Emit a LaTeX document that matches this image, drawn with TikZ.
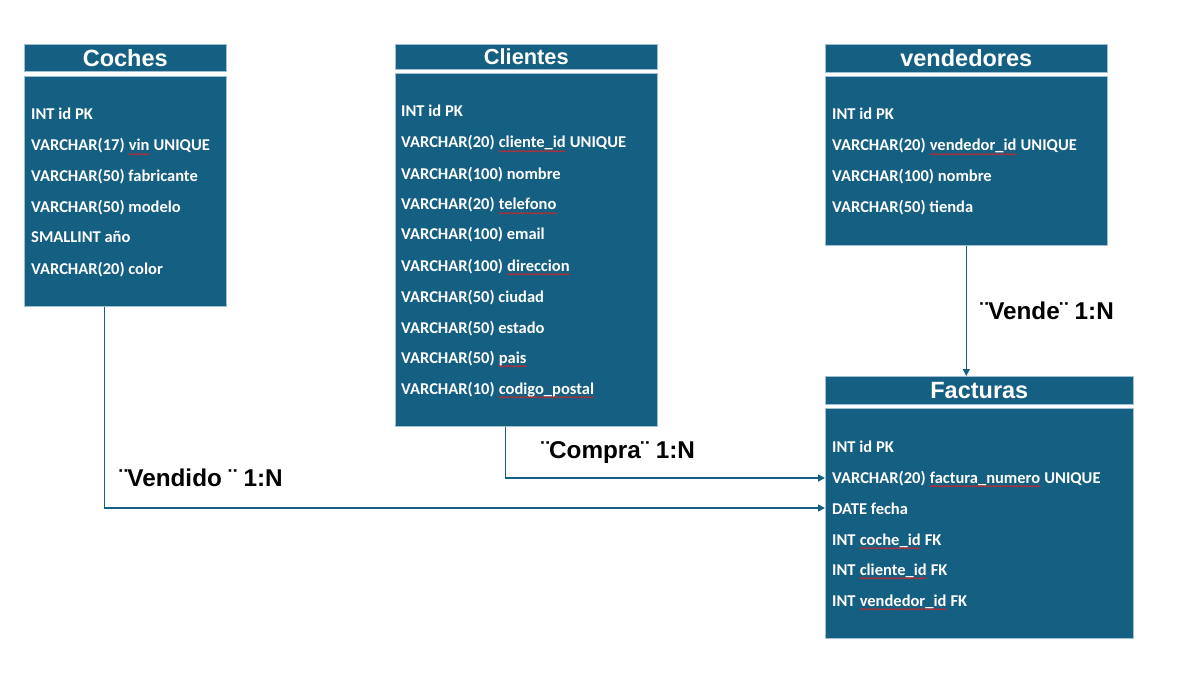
\documentclass[tikz,border=0pt]{standalone}
\usepackage{fontspec}
\setmainfont{Liberation Sans}
\newfontfamily\bodyfont{Carlito}
\usetikzlibrary{arrows.meta,decorations.pathmorphing}
\definecolor{tblue}{HTML}{156082}
\definecolor{tedge}{HTML}{9FBFD3}
\definecolor{sqred}{HTML}{E02020}
\tikzset{
  hdr/.style={draw=tedge, line width=0.6pt, fill=tblue, text=white, anchor=north west,
    inner sep=0pt, font=\bfseries\fontsize{23.5}{25}\selectfont},
  tbody/.style={draw=tedge, line width=0.6pt, fill=tblue, anchor=north west, inner sep=0pt},
  row/.style={anchor=base west, text=white, inner sep=0pt, font=\bodyfont\bfseries\fontsize{16.5}{18}\selectfont},
  lbl/.style={text=black, inner sep=0pt, font=\bfseries\fontsize{24.3}{26}\selectfont},
  conn/.style={draw=tblue, line width=1.6pt, -{Triangle[length=7pt,width=7pt]}},
  squig/.style={draw=sqred, line width=0.55pt, decorate, decoration={snake, amplitude=0.7pt, segment length=2.4pt}}
}
\newcommand\sqline[1]{\draw[squig] ([yshift=-3.2pt]#1.base west) -- ([yshift=-3.2pt]#1.base east);}
\begin{document}
\begin{tikzpicture}[x=1pt,y=-1pt]
\useasboundingbox (0,0) rectangle (1179,674);
% Coches
\node[hdr, minimum width=202pt, minimum height=27pt] (cochesH) at (24,44) {\raisebox{-1.5pt}{Coches}};
\node[tbody, minimum width=202pt, minimum height=230pt] (coches) at (24,76) {};
\node[row] (c1) at (31,120) {INT id PK};
\node[row] (c2) at (31,151) {VARCHAR(17)\ \null};
\node[row] (c2w) at (c2.base east) {vin};
\node[row] (c2b) at (c2w.base east) {\ UNIQUE};
\node[row] (c3) at (31,182) {VARCHAR(50) fabricante};
\node[row] (c4) at (31,213) {VARCHAR(50) modelo};
\node[row] (c5) at (31,243) {SMALLINT año};
\node[row] (c6) at (31,274) {VARCHAR(20) color};
% Clientes
\node[hdr, minimum width=262pt, minimum height=25pt, font=\bfseries\fontsize{21.8}{23}\selectfont] (clientesH) at (395,44) {\raisebox{-1pt}{Clientes}};
\node[tbody, minimum width=262pt, minimum height=353pt] (clientes) at (395,73) {};
\node[row] (k1) at (401,117) {INT id PK};
\node[row] (k2) at (401,148) {VARCHAR(20)\ \null};
\node[row] (k2w) at (k2.base east) {cliente\_id};
\node[row] (k2b) at (k2w.base east) {\ UNIQUE};
\node[row] (k3) at (401,179) {VARCHAR(100) nombre};
\node[row] (k4) at (401,210) {VARCHAR(20)\ \null};
\node[row] (k4w) at (k4.base east) {telefono};
\node[row] (k5) at (401,240) {VARCHAR(100) email};
\node[row] (k6) at (401,271) {VARCHAR(100)\ \null};
\node[row] (k6w) at (k6.base east) {direccion};
\node[row] (k7) at (401,302) {VARCHAR(50) ciudad};
\node[row] (k8) at (401,333) {VARCHAR(50) estado};
\node[row] (k9) at (401,363) {VARCHAR(50)\ \null};
\node[row] (k9w) at (k9.base east) {pais};
\node[row] (k10) at (401,394) {VARCHAR(10)\ \null};
\node[row] (k10w) at (k10.base east) {codigo\_postal};
% vendedores
\node[hdr, minimum width=282pt, minimum height=28pt] (vendH) at (825,44) {\raisebox{-1.5pt}{vendedores}};
\node[tbody, minimum width=282pt, minimum height=169pt] (vend) at (825,76) {};
\node[row] (v1) at (832,120) {INT id PK};
\node[row] (v2) at (832,151) {VARCHAR(20)\ \null};
\node[row] (v2w) at (v2.base east) {vendedor\_id};
\node[row] (v2b) at (v2w.base east) {\ UNIQUE};
\node[row] (v3) at (832,182) {VARCHAR(100) nombre};
\node[row] (v4) at (832,213) {VARCHAR(50) tienda};
% Facturas
\node[hdr, minimum width=308pt, minimum height=28pt] (factH) at (825,376) {\raisebox{-1.5pt}{Facturas}};
\node[tbody, minimum width=308pt, minimum height=230pt] (fact) at (825,408) {};
\node[row] (f1) at (832,452) {INT id PK};
\node[row] (f2) at (832,483) {VARCHAR(20)\ \null};
\node[row] (f2w) at (f2.base east) {factura\_numero};
\node[row] (f2b) at (f2w.base east) {\ UNIQUE};
\node[row] (f3) at (832,514) {DATE fecha};
\node[row] (f4) at (832,545) {INT\ \null};
\node[row] (f4w) at (f4.base east) {coche\_id};
\node[row] (f4b) at (f4w.base east) {\ FK};
\node[row] (f5) at (832,575) {INT\ \null};
\node[row] (f5w) at (f5.base east) {cliente\_id};
\node[row] (f5b) at (f5w.base east) {\ FK};
\node[row] (f6) at (832,606) {INT\ \null};
\node[row] (f6w) at (f6.base east) {vendedor\_id};
\node[row] (f6b) at (f6w.base east) {\ FK};
% squiggles
\sqline{c2w}\sqline{k2w}\sqline{k4w}\sqline{k6w}\sqline{k9w}\sqline{k10w}
\sqline{v2w}\sqline{f2w}\sqline{f4w}\sqline{f5w}\sqline{f6w}
\coordinate (a3) at (0,508);
\coordinate (a2) at (0,478);
% connectors
\draw[conn] ([xshift=-21pt]coches.south) |- (fact.west |- a3);
\draw[conn] ([xshift=-21pt]clientes.south) |- (fact.west |- a2);
\draw[conn] (vend.south) -- (vend.south |- factH.north);
% labels
\node[lbl] (l1) at (201,478) {¨Vendido ¨ 1:N};
\node[lbl] (l2) at (618,453) {¨Compra¨ 1:N};
\node[lbl] (l3) at (1047,311) {¨Vende¨ 1:N};
\end{tikzpicture}
\end{document}
